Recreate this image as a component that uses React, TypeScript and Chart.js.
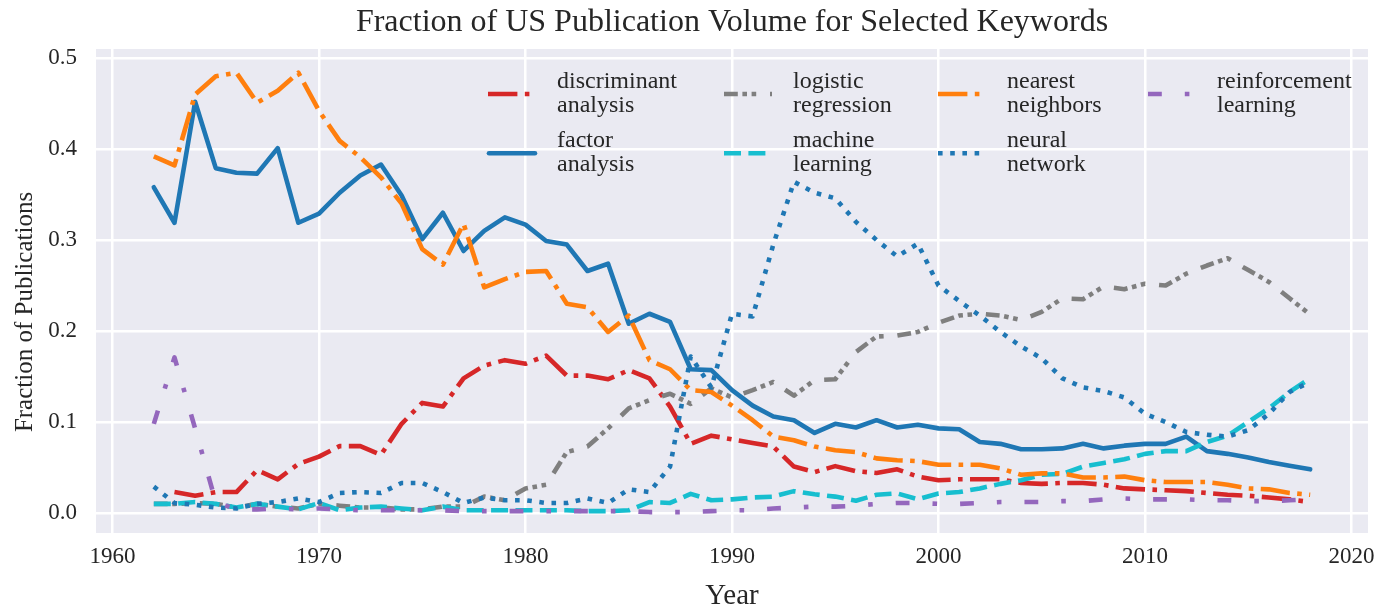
import React, { useEffect, useRef } from 'react';
import { Chart, registerables } from 'chart.js';

Chart.register(...registerables);

const years = [
  1962, 1963, 1964, 1965, 1966, 1967, 1968, 1969, 1970, 1971,
  1972, 1973, 1974, 1975, 1976, 1977, 1978, 1979, 1980, 1981,
  1982, 1983, 1984, 1985, 1986, 1987, 1988, 1989, 1990, 1991,
  1992, 1993, 1994, 1995, 1996, 1997, 1998, 1999, 2000, 2001,
  2002, 2003, 2004, 2005, 2006, 2007, 2008, 2009, 2010, 2011,
  2012, 2013, 2014, 2015, 2016, 2017, 2018,
];

const discriminantAnalysis = [
  null, 0.023, 0.019, 0.023, 0.023, 0.047, 0.037, 0.054, 0.062, 0.0735,
  0.0735, 0.064, 0.098, 0.121, 0.117, 0.148, 0.162, 0.168, 0.164, 0.173,
  0.151, 0.151, 0.147, 0.157, 0.148, 0.117, 0.076, 0.085, 0.081, 0.077,
  0.073, 0.051, 0.045, 0.0515, 0.046, 0.044, 0.048, 0.040, 0.036, 0.037,
  0.037, 0.037, 0.033, 0.032, 0.033, 0.033, 0.031, 0.027, 0.026, 0.025,
  0.024, 0.022, 0.020, 0.019, 0.017, 0.015, 0.012,
];

const factorAnalysis = [
  0.358, 0.319, 0.452, 0.379, 0.374, 0.373, 0.401, 0.319, 0.329, 0.352,
  0.371, 0.383, 0.349, 0.301, 0.330, 0.288, 0.310, 0.325, 0.317, 0.299,
  0.295, 0.266, 0.274, 0.208, 0.219, 0.210, 0.158, 0.157, 0.135, 0.118,
  0.106, 0.102, 0.088, 0.098, 0.094, 0.102, 0.094, 0.097, 0.093, 0.092,
  0.078, 0.076, 0.070, 0.070, 0.071, 0.076, 0.071, 0.074, 0.076, 0.076,
  0.084, 0.068, 0.065, 0.061, 0.056, 0.052, 0.048,
];

const logisticRegression = [
  0.010, 0.010, 0.011, 0.010, 0.006, 0.010, 0.007, 0.005, 0.010, 0.008,
  0.006, 0.006, 0.004, 0.004, 0.007, 0.007, 0.018, 0.014, 0.027, 0.031,
  0.067, 0.073, 0.093, 0.115, 0.124, 0.131, 0.120, 0.137, 0.127, 0.135,
  0.144, 0.129, 0.146, 0.147, 0.177, 0.194, 0.195, 0.199, 0.209, 0.217,
  0.219, 0.217, 0.212, 0.221, 0.236, 0.235, 0.249, 0.246, 0.252, 0.250,
  0.263, 0.272, 0.280, 0.267, 0.254, 0.236, 0.218,
];

const machineLearning = [
  0.010, 0.010, 0.012, 0.010, 0.006, 0.010, 0.007, 0.004, 0.011, 0.003,
  0.006, 0.007, 0.005, 0.003, 0.007, 0.003, 0.003, 0.003, 0.003, 0.003,
  0.003, 0.002, 0.002, 0.003, 0.012, 0.011, 0.021, 0.014, 0.015, 0.017,
  0.018, 0.024, 0.0205, 0.018, 0.0135, 0.020, 0.0215, 0.015, 0.0215, 0.023,
  0.027, 0.032, 0.036, 0.042, 0.043, 0.051, 0.055, 0.059, 0.065, 0.068,
  0.068, 0.078, 0.085, 0.100, 0.115, 0.133, 0.148,
];

const nearestNeighbors = [
  0.392, 0.382, 0.460, 0.480, 0.484, 0.451, 0.464, 0.484, 0.442, 0.409,
  0.391, 0.369, 0.340, 0.290, 0.273, 0.318, 0.248, 0.257, 0.265, 0.266,
  0.230, 0.226, 0.199, 0.217, 0.168, 0.158, 0.135, 0.133, 0.118, 0.102,
  0.084, 0.080, 0.073, 0.069, 0.067, 0.060, 0.058, 0.057, 0.053, 0.053,
  0.053, 0.049, 0.042, 0.0435, 0.0435, 0.039, 0.039, 0.040, 0.036, 0.034,
  0.034, 0.034, 0.031, 0.027, 0.026, 0.022, 0.020,
];

const neuralNetwork = [
  0.029, 0.011, 0.009, 0.006, 0.005, 0.010, 0.012, 0.016, 0.012, 0.022,
  0.023, 0.022, 0.033, 0.033, 0.023, 0.011, 0.017, 0.014, 0.014, 0.011,
  0.011, 0.016, 0.011, 0.026, 0.023, 0.051, 0.172, 0.138, 0.219, 0.216,
  0.295, 0.364, 0.352, 0.346, 0.320, 0.300, 0.282, 0.296, 0.250, 0.233,
  0.217, 0.199, 0.183, 0.170, 0.148, 0.138, 0.134, 0.127, 0.109, 0.100,
  0.089, 0.086, 0.084, 0.091, 0.109, 0.133, 0.144,
];

const reinforcementLearning = [
  0.098, 0.171, 0.093, 0.012, 0.004, 0.004, 0.005, 0.004, 0.005, 0.004,
  0.003, 0.003, 0.003, 0.003, 0.003, 0.002, 0.002, 0.002, 0.002, 0.002,
  0.002, 0.002, 0.002, 0.002, 0.001, 0.001, 0.001, 0.002, 0.003, 0.003,
  0.005, 0.006, 0.007, 0.007, 0.008, 0.010, 0.011, 0.011, 0.010, 0.010,
  0.011, 0.012, 0.012, 0.012, 0.013, 0.013, 0.015, 0.016, 0.015, 0.015,
  0.015, 0.014, 0.014, 0.013, 0.013, 0.014, 0.015,
];

const xTickValues = [1960, 1970, 1980, 1990, 2000, 2010, 2020];
const yTickValues = [0.0, 0.1, 0.2, 0.3, 0.4, 0.5];

const TITLE = 'Fraction of US Publication Volume for Selected Keywords';
const Y_LABEL = 'Fraction of Publications';
const FONT = '"Liberation Serif", "DejaVu Serif", "Times New Roman", serif';
const TEXT = '#262626';
const LW = 4.6;

interface SeriesDef {
  label: string[];
  values: (number | null)[];
  color: string;
  dash: number[];
  cap: CanvasLineCap;
}

const series: SeriesDef[] = [
  { label: ['discriminant', 'analysis'], values: discriminantAnalysis, color: '#d62728', dash: [29.4, 7.4, 4.6, 7.4], cap: 'butt' },
  { label: ['factor', 'analysis'], values: factorAnalysis, color: '#1f77b4', dash: [], cap: 'round' },
  { label: ['logistic', 'regression'], values: logisticRegression, color: '#7f7f7f', dash: [13.8, 4.6, 4.6, 4.6, 4.6, 13.8], cap: 'butt' },
  { label: ['machine', 'learning'], values: machineLearning, color: '#17becf', dash: [17, 7.4], cap: 'butt' },
  { label: ['nearest', 'neighbors'], values: nearestNeighbors, color: '#ff7f0e', dash: [29.4, 7.4, 4.6, 7.4], cap: 'butt' },
  { label: ['neural', 'network'], values: neuralNetwork, color: '#1f77b4', dash: [4.6, 7.6], cap: 'butt' },
  { label: ['reinforcement', 'learning'], values: reinforcementLearning, color: '#9467bd', dash: [13.8, 23, 4.6, 23], cap: 'butt' },
];

// legend slots (column-major, like matplotlib ncol=4)
const legendCols = [488, 724, 938, 1148];
const legendRows = [94, 153.3];

const textPlugin = {
  id: 'axesText',
  beforeDraw(chart: any) {
    const { ctx, chartArea } = chart;
    ctx.save();
    ctx.fillStyle = '#EAEAF2';
    ctx.fillRect(chartArea.left, chartArea.top, chartArea.right - chartArea.left, chartArea.bottom - chartArea.top);
    ctx.restore();
  },
  afterDraw(chart: any) {
    const { ctx, chartArea } = chart;
    ctx.save();
    ctx.fillStyle = TEXT;
    ctx.font = `32px ${FONT}`;
    ctx.textAlign = 'center';
    ctx.textBaseline = 'middle';
    ctx.fillText(TITLE, (chartArea.left + chartArea.right) / 2, 23);
    ctx.translate(25, 312);
    ctx.rotate(-Math.PI / 2);
    ctx.font = `25px ${FONT}`;
    ctx.fillText(Y_LABEL, 0, 0);
    ctx.restore();
  },
};

const legendPlugin = {
  id: 'mplLegend',
  afterDatasetsDraw(chart: any) {
    const { ctx } = chart;
    ctx.save();
    series.forEach((s, i) => {
      const col = Math.floor(i / 2);
      const row = i % 2;
      const hx = legendCols[col];
      const hy = legendRows[row];
      ctx.beginPath();
      ctx.strokeStyle = s.color;
      ctx.lineWidth = LW;
      ctx.lineCap = s.cap;
      ctx.setLineDash(s.dash);
      ctx.moveTo(hx + (s.cap === 'round' ? 1 : 0), hy);
      ctx.lineTo(hx + 48 - (s.cap === 'round' ? 1 : 0), hy);
      ctx.stroke();
      ctx.setLineDash([]);
      ctx.fillStyle = TEXT;
      ctx.font = `24px ${FONT}`;
      ctx.textAlign = 'left';
      ctx.textBaseline = 'alphabetic';
      ctx.fillText(s.label[0], hx + 69, hy - 6.5);
      ctx.fillText(s.label[1], hx + 69, hy + 17.5);
    });
    ctx.restore();
  },
};

export default function App() {
  const canvasRef = useRef<HTMLCanvasElement | null>(null);

  useEffect(() => {
    document.body.style.margin = '0';
    const canvas = canvasRef.current;
    if (!canvas) return;

    const datasets = series.map((s, i) => ({
      label: s.label.join(' '),
      data: years.map((y, k) => ({ x: y, y: s.values[k] })),
      borderColor: s.color,
      backgroundColor: s.color,
      borderWidth: LW,
      borderDash: s.dash,
      borderCapStyle: s.cap,
      borderJoinStyle: 'round' as CanvasLineJoin,
      pointRadius: 0,
      pointHoverRadius: 0,
      tension: 0,
      fill: false,
      spanGaps: false,
      order: series.length - i,
    }));

    const chart = new Chart(canvas, {
      type: 'line',
      data: { datasets },
      plugins: [textPlugin, legendPlugin],
      options: {
        responsive: false,
        animation: false,
        events: [],
        layout: { padding: { left: 0, right: 28, top: 49, bottom: 0 } },
        plugins: {
          legend: { display: false },
          tooltip: { enabled: false },
          title: { display: false },
        },
        scales: {
          x: {
            type: 'linear',
            min: 1959.2,
            max: 2020.8,
            border: { display: false },
            grid: { color: '#ffffff', lineWidth: 2.5, drawTicks: false },
            ticks: {
              color: TEXT,
              font: { family: FONT, size: 23 },
              padding: 10,
              callback: (v: any) => String(v),
            },
            afterBuildTicks: (scale: any) => {
              scale.ticks = xTickValues.map((v) => ({ value: v }));
            },
            afterFit: (scale: any) => {
              scale.height = 79;
            },
            title: {
              display: true,
              text: 'Year',
              color: TEXT,
              font: { family: FONT, size: 29, lineHeight: 1.0 },
              padding: { top: 0, bottom: 1 },
            },
          },
          y: {
            type: 'linear',
            min: -0.022,
            max: 0.51,
            border: { display: false },
            grid: { color: '#ffffff', lineWidth: 2.5, drawTicks: false },
            ticks: {
              color: TEXT,
              font: { family: FONT, size: 23 },
              padding: 19,
              callback: (v: any) => Number(v).toFixed(1),
            },
            afterBuildTicks: (scale: any) => {
              scale.ticks = yTickValues.map((v) => ({ value: v }));
            },
            afterFit: (scale: any) => {
              scale.width = 96;
            },
          },
        },
      },
    });

    return () => {
      chart.destroy();
    };
  }, []);

  return (
    <div style={{ width: 1396, height: 612 }}>
      <canvas ref={canvasRef} width={1396} height={612} style={{ display: 'block' }} />
    </div>
  );
}
